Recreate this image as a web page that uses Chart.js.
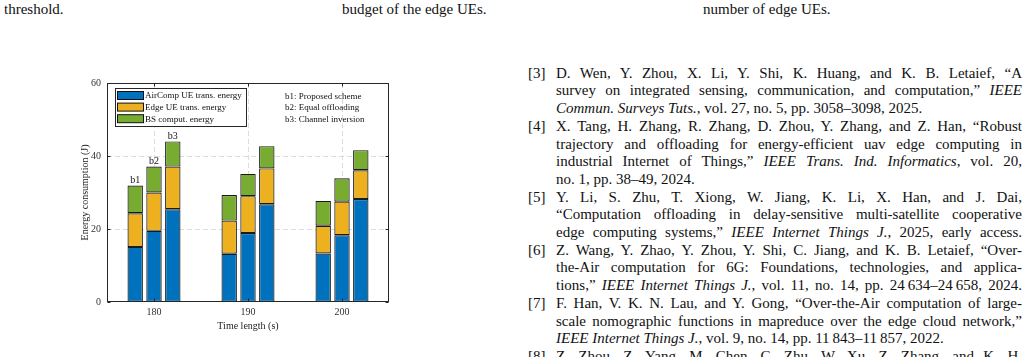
<!DOCTYPE html>
<html><head><meta charset="utf-8">
<script src="https://cdn.jsdelivr.net/npm/chart.js@4.4.1/dist/chart.umd.min.js"></script>
<style>
html,body{margin:0;padding:0;background:#fff;width:1029px;height:357px;overflow:hidden;position:relative;font-family:"Liberation Serif",serif;color:#111;}
.t{position:absolute;font-size:15px;line-height:17.7px;white-space:nowrap;}
.ref{position:absolute;left:556px;width:466px;font-size:15px;line-height:17.7px;height:17.7px;overflow:visible;}
.j{text-align:justify;text-align-last:justify;}
.num{position:absolute;left:528px;font-size:15px;line-height:17.7px;}
#wrap{position:absolute;left:40px;top:60px;width:380px;height:290px;}
</style></head>
<body>
<div class="t" style="left:4px;top:1px;">threshold.</div>
<div class="t" style="left:342px;top:1px;">budget of the edge UEs.</div>
<div class="t" style="left:703px;top:1px;">number of edge UEs.</div>

<div class="num" style="top:64.7px;">[3]</div>
<div class="ref j" style="top:64.7px;">D. Wen, Y. Zhou, X. Li, Y. Shi, K. Huang, and K. B. Letaief, “A</div>
<div class="ref j" style="top:82.4px;">survey on integrated sensing, communication, and computation,” <i>IEEE</i></div>
<div class="ref" style="top:100.1px;"><i>Commun. Surveys Tuts.</i>, vol. 27, no. 5, pp. 3058–3098, 2025.</div>
<div class="num" style="top:117.8px;">[4]</div>
<div class="ref j" style="top:117.8px;">X. Tang, H. Zhang, R. Zhang, D. Zhou, Y. Zhang, and Z. Han, “Robust</div>
<div class="ref j" style="top:135.5px;">trajectory and offloading for energy-efficient uav edge computing in</div>
<div class="ref j" style="top:153.2px;">industrial Internet of Things,” <i>IEEE Trans. Ind. Informatics</i>, vol. 20,</div>
<div class="ref" style="top:170.9px;">no. 1, pp. 38–49, 2024.</div>
<div class="num" style="top:188.6px;">[5]</div>
<div class="ref j" style="top:188.6px;">Y. Li, S. Zhu, T. Xiong, W. Jiang, K. Li, X. Han, and J. Dai,</div>
<div class="ref j" style="top:206.3px;">“Computation offloading in delay-sensitive multi-satellite cooperative</div>
<div class="ref j" style="top:224px;">edge computing systems,” <i>IEEE Internet Things J.</i>, 2025, early access.</div>
<div class="num" style="top:241.7px;">[6]</div>
<div class="ref j" style="top:241.7px;">Z. Wang, Y. Zhao, Y. Zhou, Y. Shi, C. Jiang, and K. B. Letaief, “Over-</div>
<div class="ref j" style="top:259.4px;">the-Air computation for 6G: Foundations, technologies, and applica-</div>
<div class="ref j" style="top:277.1px;">tions,” <i>IEEE Internet Things J.</i>, vol. 11, no. 14, pp. 24&#8201;634–24&#8201;658, 2024.</div>
<div class="num" style="top:294.8px;">[7]</div>
<div class="ref j" style="top:294.8px;">F. Han, V. K. N. Lau, and Y. Gong, “Over-the-Air computation of large-</div>
<div class="ref j" style="top:312.5px;">scale nomographic functions in mapreduce over the edge cloud network,”</div>
<div class="ref" style="top:330.2px;"><i>IEEE Internet Things J.</i>, vol. 9, no. 14, pp. 11&#8201;843–11&#8201;857, 2022.</div>
<div class="num" style="top:347.9px;">[8]</div>
<div class="ref j" style="top:347.9px;">Z. Zhou, Z. Yang, M. Chen, C. Zhu, W. Xu, Z. Zhang, and K. H.</div>

<div id="wrap"><canvas id="c" width="380" height="290"></canvas></div>
<script>
// ---- data ----
const categories = ['180', '190', '200'];
const yTicks = [0, 20, 40, 60];
const componentNames = ['AirComp UE trans. energy', 'Edge UE trans. energy', 'BS comput. energy'];
const schemeTags = ['b1', 'b2', 'b3'];
const schemeNames = ['b1: Proposed scheme', 'b2: Equal offloading', 'b3: Channel inversion'];
const xTitle = 'Time length (s)';
const yTitle = 'Energy consumption (J)';
// b1: Proposed scheme
const airB1  = [15.1, 13.2, 13.3];
const edgeB1 = [9.2, 9.1, 7.6];
const bsB1   = [7.6, 7.0, 6.8];
// b2: Equal offloading
const airB2  = [19.5, 18.9, 18.3];
const edgeB2 = [10.5, 10.1, 9.2];
const bsB2   = [7.1, 6.1, 6.4];
// b3: Channel inversion
const airB3  = [25.4, 26.8, 28.2];
const edgeB3 = [11.7, 9.8, 7.9];
const bsB3   = [6.9, 6.1, 5.5];

const colors = ['#0072BD', '#EDB120', '#77AC30'];
const FONT = '"Liberation Serif", serif';

const schemeData = [[airB1, edgeB1, bsB1], [airB2, edgeB2, bsB2], [airB3, edgeB3, bsB3]];
const datasets = [];
schemeData.forEach((comps, s) => {
  comps.forEach((vals, k) => {
    datasets.push({
      label: componentNames[k],
      data: vals,
      stack: schemeTags[s],
      backgroundColor: colors[k],
      borderColor: '#1a1a1a',
      borderWidth: 1.2,
      borderSkipped: false,
      categoryPercentage: 0.6,
      barPercentage: 0.82
    });
  });
});

function seg(ctx, x1, y1, x2, y2) { ctx.beginPath(); ctx.moveTo(x1, y1); ctx.lineTo(x2, y2); ctx.stroke(); }

const framePlugin = {
  id: 'frame',
  beforeDatasetsDraw(chart) {
    const { ctx, chartArea: a, scales: { x, y } } = chart;
    ctx.save();
    ctx.strokeStyle = '#dcdcdc';
    ctx.lineWidth = 1;
    ctx.setLineDash([5, 3]);
    yTicks.forEach(v => {
      if (v <= 0 || v >= 60) return;
      const py = Math.round(y.getPixelForValue(v)) + 0.5;
      seg(ctx, a.left, py, a.right, py);
    });
    categories.forEach((c, i) => {
      const px = Math.round(x.getPixelForValue(i)) + 0.5;
      seg(ctx, px, a.top, px, a.bottom);
    });
    ctx.restore();
  },
  afterDatasetsDraw(chart) {
    const { ctx, chartArea: a, scales: { x, y } } = chart;
    ctx.save();
    ctx.strokeStyle = '#262626';
    ctx.lineWidth = 1;
    const L = Math.round(a.left) + 0.5, R = Math.round(a.right) - 0.5;
    const T = Math.round(a.top) + 0.5, B = Math.round(a.bottom) - 0.5;
    ctx.strokeRect(L, T, R - L, B - T);
    const tl = 3;
    yTicks.forEach(v => {
      const py = Math.round(y.getPixelForValue(v)) + 0.5;
      seg(ctx, L, py, L + tl, py);
      seg(ctx, R, py, R - tl, py);
    });
    categories.forEach((c, i) => {
      const px = Math.round(x.getPixelForValue(i)) + 0.5;
      seg(ctx, px, B, px, B - tl);
      seg(ctx, px, T, px, T + tl);
    });
    ctx.fillStyle = '#111';
    ctx.font = '10px ' + FONT;
    ctx.textAlign = 'center';
    ctx.textBaseline = 'alphabetic';
    schemeTags.forEach((tag, s) => {
      const meta = chart.getDatasetMeta(s * 3 + 2);
      const el = meta.data[0];
      ctx.fillText(tag, el.x, el.y - 2.5);
    });
    const bx = a.left + 8, by = a.top + 5, bw = 131, bh = 38;
    ctx.fillStyle = '#fff';
    ctx.fillRect(bx, by, bw, bh);
    ctx.strokeStyle = '#262626';
    ctx.lineWidth = 1;
    ctx.strokeRect(Math.round(bx) + 0.5, Math.round(by) + 0.5, bw, bh);
    ctx.font = '9px ' + FONT;
    ctx.textAlign = 'left';
    ctx.textBaseline = 'middle';
    componentNames.forEach((name, k) => {
      const cy = by + 7.5 + k * 11.6;
      ctx.fillStyle = colors[k];
      ctx.fillRect(bx + 2.5, cy - 4, 26, 8);
      ctx.strokeStyle = '#111';
      ctx.strokeRect(bx + 2.5, cy - 4, 26, 8);
      ctx.fillStyle = '#111';
      ctx.fillText(name, bx + 30, cy + 0.5);
    });
    schemeNames.forEach((t, s) => {
      ctx.fillText(t, a.left + 178, a.top + 13.5 + s * 11.6);
    });
    ctx.restore();
  }
};

new Chart(document.getElementById('c'), {
  type: 'bar',
  data: { labels: categories, datasets },
  plugins: [framePlugin],
  options: {
    responsive: false,
    animation: false,
    events: [],
    layout: { padding: { top: 23, right: 31, left: 0, bottom: 0 } },
    plugins: { legend: { display: false }, tooltip: { enabled: false } },
    scales: {
      x: {
        type: 'category',
        offset: true,
        stacked: true,
        grid: { display: false, drawTicks: false },
        border: { display: false },
        ticks: { color: '#333', font: { family: FONT, size: 10 }, padding: 4 },
        title: { display: true, text: xTitle, color: '#222', font: { family: FONT, size: 10 }, padding: { top: 0, bottom: 18 } },
        afterFit(s) { s.height = 48; }
      },
      y: {
        min: 0, max: 60,
        stacked: true,
        grid: { display: false, drawTicks: false },
        border: { display: false },
        afterBuildTicks(s) { s.ticks = yTicks.map(v => ({ value: v })); },
        ticks: { color: '#333', font: { family: FONT, size: 10 }, padding: 6 },
        title: { display: true, text: yTitle, color: '#222', font: { family: FONT, size: 10 }, padding: { top: 39, bottom: 0 } },
        afterFit(s) { s.width = 67; }
      }
    }
  }
});
</script>
</body></html>
